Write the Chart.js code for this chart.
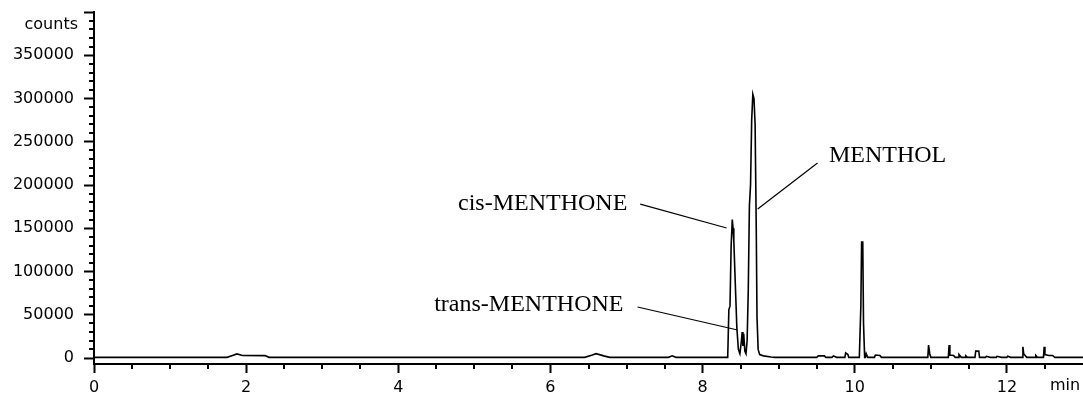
<!DOCTYPE html>
<html lang="en">
<head>
    <meta charset="UTF-8">
    <title>Chromatogram</title>
    <script src="https://cdn.jsdelivr.net/npm/chart.js"></script>
    <style>
        body { margin: 0; background: #fff; }
        .chart-box { width: 1083px; height: 394px; }
    </style>
</head>
<body>
    <div class="chart-box">
        <canvas id="gcChart" width="1083" height="394"></canvas>
    </div>

    <script>
        // retention time (min) and detector response (counts)
        const times = [
            0, 1.75, 1.82, 1.88, 1.95, 2.25, 2.3,
            6.45, 6.55, 6.6, 6.7, 6.78, 7.55, 7.6, 7.65,
            8.33, 8.345, 8.36, 8.375, 8.39, 8.40, 8.41, 8.43, 8.45, 8.47, 8.49,
            8.51, 8.52, 8.53, 8.54, 8.555, 8.57, 8.585, 8.60, 8.615, 8.63, 8.645,
            8.66, 8.675, 8.69, 8.705, 8.715, 8.73, 8.75, 8.8, 8.9, 8.95,
            9.5, 9.52, 9.6, 9.62, 9.7, 9.72, 9.76, 9.87, 9.88, 9.91, 9.92,
            10.06, 10.08, 10.09, 10.105, 10.115, 10.13, 10.14, 10.15, 10.17,
            10.26, 10.27, 10.33, 10.35, 10.96, 10.97, 10.985, 11.0,
            11.23, 11.24, 11.25, 11.3, 11.32, 11.36, 11.37, 11.4, 11.45, 11.46, 11.48,
            11.58, 11.59, 11.63, 11.64, 11.72, 11.73, 11.78, 11.86, 11.87, 11.93,
            12.0, 12.01, 12.05, 12.2, 12.21, 12.22, 12.26, 12.37, 12.38, 12.4,
            12.48, 12.49, 12.5, 12.55, 12.6, 12.63, 13.0
        ];
        const counts = [
            800, 800, 3000, 4800, 3000, 2800, 800,
            800, 3500, 5000, 2500, 800, 800, 2500, 800,
            800, 56000, 60000, 130000, 160000, 150000, 136000, 85000, 35000, 10000, 5000,
            20000, 30000, 14000, 28000, 8000, 5000, 20000, 78000, 176000, 200000, 275000,
            305000, 300000, 270000, 150000, 47000, 10000, 4000, 2500, 1200, 800,
            800, 2500, 2500, 800, 800, 2500, 800, 800, 6000, 4000, 800,
            800, 60000, 134000, 134000, 40000, 800, 800, 5000, 800,
            800, 3500, 3000, 800, 800, 15000, 5000, 800,
            800, 15000, 3500, 3000, 800, 800, 4000, 800, 800, 2500, 800,
            800, 8000, 8000, 800, 800, 2000, 800, 800, 2000, 800,
            800, 2000, 800, 800, 13000, 5000, 800, 800, 3000, 800,
            800, 13000, 4000, 3000, 3000, 800, 800
        ];

        // axis ticks
        const xTicks = [0, 2, 4, 6, 8, 10, 12];
        const yTicks = [0, 50000, 100000, 150000, 200000, 250000, 300000, 350000, 400000];

        // peak labels: text anchor and leader line ends, in data units
        const peakNames = ['cis-MENTHONE', 'trans-MENTHONE', 'MENTHOL'];
        const labelAt = [[7.01, 178000, 'right'], [6.96, 61300, 'right'], [9.66, 233500, 'left']];
        const leaderFrom = [[7.18, 178000], [7.145, 59000], [9.51, 225400]];
        const leaderTo = [[8.316, 150300], [8.46, 32400], [8.724, 172200]];

        const points = times.map((t, i) => ({ x: t, y: counts[i] }));

        const extras = {
            id: 'extras',
            afterDraw(chart) {
                const ctx = chart.ctx;
                const xs = chart.scales.x;
                const ys = chart.scales.y;
                const area = chart.chartArea;
                ctx.save();
                ctx.strokeStyle = '#000';
                ctx.lineWidth = 2;

                // minor ticks
                ctx.beginPath();
                for (let v = 10000; v < 400000; v += 10000) {
                    if (v % 50000 === 0) continue;
                    const py = Math.round(ys.getPixelForValue(v));
                    ctx.moveTo(area.left - 5, py);
                    ctx.lineTo(area.left, py);
                }
                for (let t = 0.5; t < 13; t += 0.5) {
                    if (t % 2 === 0) continue;
                    const px = Math.round(xs.getPixelForValue(t));
                    ctx.moveTo(px, area.bottom);
                    ctx.lineTo(px, area.bottom + 5);
                }
                ctx.stroke();

                // axis unit labels
                ctx.fillStyle = '#000';
                ctx.font = '16px "DejaVu Sans"';
                ctx.textBaseline = 'middle';
                ctx.textAlign = 'right';
                ctx.fillText('counts', area.left - 16, area.top + 13);
                ctx.textAlign = 'left';
                ctx.fillText('min', 1050, area.bottom + 22);

                // peak names with leader lines
                ctx.lineWidth = 1.2;
                ctx.font = '24px "Liberation Serif"';
                peakNames.forEach((name, i) => {
                    ctx.textAlign = labelAt[i][2];
                    ctx.fillText(name, xs.getPixelForValue(labelAt[i][0]), ys.getPixelForValue(labelAt[i][1]));
                    ctx.beginPath();
                    ctx.moveTo(xs.getPixelForValue(leaderFrom[i][0]), ys.getPixelForValue(leaderFrom[i][1]));
                    ctx.lineTo(xs.getPixelForValue(leaderTo[i][0]), ys.getPixelForValue(leaderTo[i][1]));
                    ctx.stroke();
                });
                ctx.restore();
            }
        };

        new Chart(document.getElementById('gcChart').getContext('2d'), {
            type: 'line',
            data: {
                datasets: [{
                    label: 'counts',
                    data: points,
                    borderColor: '#000',
                    borderWidth: 1.6,
                    pointRadius: 0,
                    tension: 0,
                    fill: false
                }]
            },
            options: {
                responsive: false,
                animation: false,
                layout: { padding: { top: 12, right: 0, left: 0, bottom: 0 } },
                plugins: {
                    legend: { display: false },
                    tooltip: { enabled: false }
                },
                scales: {
                    x: {
                        type: 'linear',
                        min: 0,
                        max: 13,
                        afterBuildTicks: scale => { scale.ticks = xTicks.map(v => ({ value: v })); },
                        afterFit: scale => {
                            scale.height = 30;
                            scale.paddingLeft = 0;
                            scale.paddingRight = 0;
                        },
                        ticks: {
                            color: '#000',
                            font: { family: 'DejaVu Sans', size: 16 },
                            padding: 5,
                            maxRotation: 0
                        },
                        grid: {
                            drawOnChartArea: false,
                            drawTicks: true,
                            tickLength: 9,
                            tickWidth: 2,
                            tickColor: '#000'
                        },
                        border: { display: true, color: '#000', width: 2 }
                    },
                    y: {
                        min: -6900,
                        max: 400000,
                        afterBuildTicks: scale => { scale.ticks = yTicks.map(v => ({ value: v })); },
                        afterFit: scale => {
                            scale.width = 94;
                            scale.paddingTop = 0;
                            scale.paddingBottom = 0;
                        },
                        ticks: {
                            color: '#000',
                            font: { family: 'DejaVu Sans', size: 16 },
                            padding: 10,
                            callback: v => (v === 400000 ? '' : String(v))
                        },
                        grid: {
                            drawOnChartArea: false,
                            drawTicks: true,
                            tickLength: 10,
                            tickWidth: 2,
                            tickColor: '#000'
                        },
                        border: { display: true, color: '#000', width: 2 }
                    }
                }
            },
            plugins: [extras]
        });
    </script>
</body>
</html>
